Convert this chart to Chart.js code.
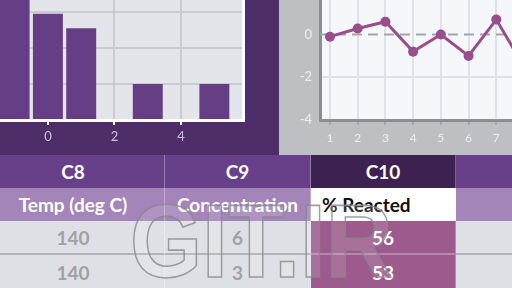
<!DOCTYPE html>
<html><head><meta charset="utf-8">
<script src="https://cdn.jsdelivr.net/npm/chart.js@4"></script>
<style>
html,body{margin:0;padding:0;width:512px;height:288px;overflow:hidden;background:#bdbfc3;font-family:Lato,"Open Sans",sans-serif;}
#left{position:absolute;left:0;top:0;width:279px;height:155px;background:#4f2d69;}
#right{position:absolute;left:279px;top:0;width:233px;height:155px;background:#bdbfc3;}
#c1{position:absolute;left:-20px;top:-24px;}
#c2{position:absolute;left:280px;top:-24px;}
#table{position:absolute;left:0;top:155px;width:512px;height:133px;}
.cell{position:absolute;box-sizing:border-box;display:flex;align-items:center;justify-content:center;font-weight:700;font-size:19px;white-space:nowrap;}
#wm{position:absolute;left:130px;top:190px;font-family:"Liberation Sans",Arial,sans-serif;font-size:103px;font-weight:700;color:rgba(255,255,255,0.13);-webkit-text-stroke:1.6px rgba(135,135,140,0.8);line-height:1;transform-origin:0 0;transform:scaleX(0.9);}
</style></head>
<body>
<div id="left"></div>
<div id="right"></div>
<canvas id="c1" width="265" height="179"></canvas>
<canvas id="c2" width="295" height="177"></canvas>
<div id="table"></div>
<div id="wm">GIT.IR</div>
<script>
// ---- histogram data ----
const histBins = [-1, 0, 1, 2, 3, 4, 5];
const histCounts = [3.8, 2.95, 2.55, 0, 1, 0, 1];
const histTicks = [0, 2, 4];

// ---- line chart data ----
const lineX = [1, 2, 3, 4, 5, 6, 7, 8];
const lineY = [-0.1, 0.28, 0.6, -0.8, 0, -1.0, 0.7, -1.5];
const lineXTicks = [1, 2, 3, 4, 5, 6, 7, 8, 9];
const lineYTicks = [-4, -2, 0];
const refLevel = 0;

// ---- table data ----
const colHeaders = ['C8', 'C9', 'C10', ''];
const colNames = ['Temp (deg C)', 'Concentration', '% Reacted', ''];
const tableRows = [[140, 6, 56, ''], [140, 3, 53, '']];

const areaBg = {
  id: 'areaBg',
  beforeDraw(chart, args, opts) {
    const {ctx, chartArea: a} = chart;
    ctx.save(); ctx.fillStyle = opts.color;
    ctx.fillRect(a.left, a.top, a.right - a.left, a.bottom - a.top);
    ctx.restore();
  },
  afterDraw(chart, args, opts) {
    if (!opts.rightBorder) return;
    const {ctx, chartArea: a} = chart;
    ctx.save(); ctx.strokeStyle = opts.rightBorder; ctx.lineWidth = 3;
    ctx.beginPath(); ctx.moveTo(a.right - 1.5, a.top); ctx.lineTo(a.right - 1.5, a.bottom + 1.5); ctx.stroke();
    ctx.restore();
  }
};

new Chart(document.getElementById('c1'), {
  type: 'bar',
  data: { datasets: [{
    data: histBins.map((b, i) => ({x: b, y: histCounts[i]})),
    backgroundColor: '#663e86', borderWidth: 0,
    barPercentage: 0.9, categoryPercentage: 1
  }]},
  options: {
    responsive: false, animation: false, events: [],
    layout: {padding: 0},
    plugins: {legend: {display: false}, tooltip: {enabled: false},
      areaBg: {color: '#e3e5ea', rightBorder: '#ffffff'}},
    scales: {
      x: { type: 'linear', min: -2.04, max: 5.92, offset: false,
        afterBuildTicks: s => { s.ticks = histTicks.map(v => ({value: v})); },
        afterFit: s => { s.height = 35; },
        grid: { offset: false,
          color: c => (c.tick && c.tick.value === 0) ? 'rgba(0,0,0,0)' : '#c9cbd0',
          lineWidth: 2, tickColor: '#ffffff', tickLength: 5, tickWidth: 2 },
        border: { color: '#ffffff', width: 3 },
        ticks: { color: '#cdbde3', font: {family: 'Lato', size: 13}, padding: 4 }
      },
      y: { min: 0, max: 4,
        afterFit: s => { s.width = 0; },
        ticks: { display: false, stepSize: 1 },
        grid: { color: '#c9cbd0', lineWidth: 2, drawTicks: false },
        border: { display: false }
      }
    }
  },
  plugins: [areaBg]
});

new Chart(document.getElementById('c2'), {
  type: 'line',
  data: { datasets: [
    { data: lineX.map((x, i) => ({x, y: lineY[i]})),
      borderColor: '#9a4d8b', backgroundColor: '#9a4d8b', borderWidth: 3,
      pointRadius: 5, pointBackgroundColor: '#9a4d8b', pointBorderWidth: 0, tension: 0 },
    { data: [{x: 0.64, y: refLevel}, {x: 9.7, y: refLevel}],
      borderColor: '#a3a5a9', borderWidth: 2, borderDash: [10, 6], pointRadius: 0 }
  ]},
  options: {
    responsive: false, animation: false, events: [],
    layout: {padding: 0},
    plugins: {legend: {display: false}, tooltip: {enabled: false},
      areaBg: {color: '#f5f7fb'}},
    scales: {
      x: { type: 'linear', min: 0.64, max: 9.66,
        afterBuildTicks: s => { s.ticks = lineXTicks.map(v => ({value: v})); },
        afterFit: s => { s.height = 33; },
        grid: { color: '#dfe2e8', lineWidth: 2, tickColor: '#a3a5a9', tickLength: 5, tickWidth: 2 },
        border: { color: '#8c8e92', width: 3 },
        ticks: { color: '#eceef0', font: {family: 'Lato', size: 12}, padding: 6 }
      },
      y: { min: -4, max: 2,
        afterBuildTicks: s => { s.ticks = lineYTicks.map(v => ({value: v})); },
        afterFit: s => { s.width = 40; },
        ticks: { color: '#eceef0', font: {family: 'Lato', size: 13}, padding: 8 },
        grid: { color: c => (c.tick && c.tick.value === 0) ? 'rgba(0,0,0,0)' : '#dde0e6',
          lineWidth: 2, drawTicks: false },
        border: { color: '#8c8e92', width: 3 }
      }
    }
  },
  plugins: [areaBg]
});

// ---- table ----
const colLeft = [-18, 165, 311, 456];
const colWidth = [183, 146, 145, 100];
const rowTop = [0, 33, 66, 100];
const rowH = [33, 33, 34, 34];
const tbl = document.getElementById('table');
function cell(r, c, text, bg, color, align) {
  const d = document.createElement('div');
  d.className = 'cell';
  d.style.left = colLeft[c] + 'px'; d.style.width = colWidth[c] + 'px';
  d.style.top = rowTop[r] + 'px'; d.style.height = rowH[r] + 'px';
  d.style.background = bg; d.style.color = color;
  if (align === 'left') { d.style.justifyContent = 'flex-start'; d.style.paddingLeft = '11px'; }
  d.style.borderRight = '1px solid rgba(255,255,255,0.3)';
  d.textContent = text;
  tbl.appendChild(d);
  return d;
}
colHeaders.forEach((h, c) => cell(0, c, h, c === 2 ? '#3c2151' : '#683f89', '#ffffff'));
colNames.forEach((h, c) => cell(1, c, h, c === 2 ? '#ffffff' : '#a485ba', c === 2 ? '#111111' : '#ffffff', c === 2 ? 'left' : null));
tableRows.forEach((row, r) => row.forEach((v, c) => {
  const d = cell(2 + r, c, String(v), c === 2 ? '#9d5a8d' : '#dfe0e5', c === 2 ? '#ffffff' : '#a1a1a5');
  if (r === 0) d.style.borderBottom = c === 2 ? '2px solid #b585aa' : '2px solid #b3b3b7';
}));
</script>
</body></html>
